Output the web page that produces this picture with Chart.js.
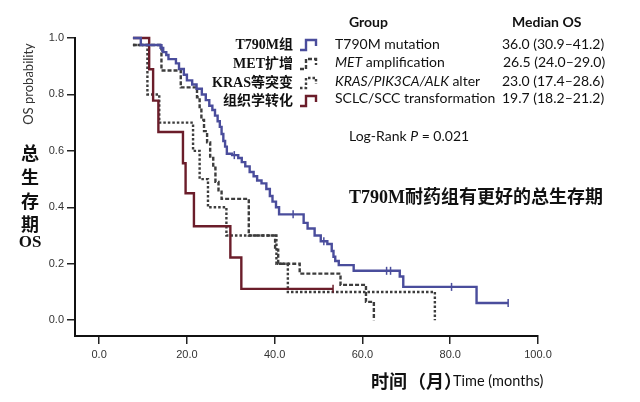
<!DOCTYPE html>
<html>
<head>
<meta charset="utf-8">
<script src="https://cdn.jsdelivr.net/npm/chart.js@4.4.1/dist/chart.umd.min.js"></script>
<style>
html,body{margin:0;padding:0;background:#fff;}
#wrap{position:relative;width:640px;height:402px;overflow:hidden;background:#fff;}
#c{position:absolute;left:0;top:0;}
.t{position:absolute;white-space:nowrap;color:#111;line-height:1;transform:translateY(-50%);}
.sans{font-family:Lato,"Open Sans",sans-serif;font-size:14px;}
.serif{font-family:"Liberation Serif","Noto Sans CJK SC",serif;font-weight:bold;}
.cjk{font-family:"Noto Sans CJK SC",sans-serif;font-weight:bold;}
i{font-style:italic;}
</style>
</head>
<body>
<div id="wrap">
  <canvas id="c" width="640" height="402"></canvas>

  <div class="t sans" style="left:28px;top:84px;font-size:13px;color:#333;transform:translate(-50%,-50%) rotate(-90deg);">OS probability</div>
  <div class="t cjk" style="left:30px;top:152px;font-size:18px;transform:translate(-50%,-50%);">总</div>
  <div class="t cjk" style="left:30px;top:176px;font-size:18px;transform:translate(-50%,-50%);">生</div>
  <div class="t cjk" style="left:30px;top:200px;font-size:18px;transform:translate(-50%,-50%);">存</div>
  <div class="t cjk" style="left:30px;top:223px;font-size:18px;transform:translate(-50%,-50%);">期</div>
  <div class="t serif" style="left:30px;top:241px;font-size:17px;transform:translate(-50%,-50%);">OS</div>

  <!-- chinese legend labels, right aligned -->
  <div class="t serif" style="right:347px;top:45px;font-size:14px;">T790M组</div>
  <div class="t serif" style="right:347px;top:64px;font-size:14px;">MET扩增</div>
  <div class="t serif" style="right:347px;top:83px;font-size:14px;">KRAS等突变</div>
  <div class="t serif" style="right:347px;top:101px;font-size:14px;">组织学转化</div>

  <!-- median OS table -->
  <div class="t sans" style="left:349px;top:22px;font-weight:bold;">Group</div>
  <div class="t sans" style="left:512px;top:22px;font-weight:bold;">Median OS</div>
  <div class="t sans" style="left:335px;top:44px;">T790M mutation</div>
  <div class="t sans" style="left:335px;top:62px;"><i>MET</i> amplification</div>
  <div class="t sans" style="left:335px;top:81px;"><i>KRAS/PIK3CA/ALK</i> alter</div>
  <div class="t sans" style="left:335px;top:98px;">SCLC/SCC transformation</div>
  <div class="t sans" style="left:502px;top:44px;">36.0 (30.9–41.2)</div>
  <div class="t sans" style="left:503px;top:62px;">26.5 (24.0–29.0)</div>
  <div class="t sans" style="left:502px;top:81px;">23.0 (17.4–28.6)</div>
  <div class="t sans" style="left:502px;top:98px;">19.7 (18.2–21.2)</div>

  <div class="t sans" style="left:349px;top:136px;">Log-Rank <i>P</i> = 0.021</div>
  <div class="t serif" style="left:349px;top:197px;font-size:18px;">T790M耐药组有更好的总生存期</div>

  <div class="t cjk" style="left:371px;top:380px;font-size:18px;">时间</div>
  <div class="t cjk" style="left:408px;top:380px;font-size:18px;">（月）</div>
  <div class="t sans" style="left:453px;top:381px;font-size:14.5px;">Time (months)</div>
</div>

<script>
// Kaplan-Meier curves (months, survival after the step)
const blueT = [7.7, 9.5, 14.0, 14.6, 15.3, 15.8, 17.5, 18.2, 19.3, 20.0, 21.2, 22.2, 23.4, 24.3, 25.1, 25.8, 26.4, 27.0, 27.5, 27.9, 28.3, 28.7, 29.1, 30.3, 31.7, 32.5, 33.3, 34.3, 35.2, 36.0, 37.0, 38.1, 38.9, 39.5, 40.3, 41.0, 46.6, 47.5, 49.1, 50.5, 52.0, 53.0, 53.4, 53.8, 54.6, 58.0, 68.5, 69.3, 86.0, 93.2];
const blueS = [1.0, 0.975, 0.965, 0.95, 0.94, 0.925, 0.91, 0.89, 0.87, 0.85, 0.835, 0.82, 0.80, 0.78, 0.76, 0.745, 0.725, 0.705, 0.685, 0.66, 0.635, 0.615, 0.59, 0.585, 0.575, 0.56, 0.545, 0.525, 0.51, 0.495, 0.485, 0.465, 0.44, 0.42, 0.40, 0.375, 0.345, 0.325, 0.30, 0.28, 0.27, 0.245, 0.225, 0.21, 0.195, 0.175, 0.155, 0.118, 0.061, 0.061];
const blueCensor = [14.3, 30.8, 44.2, 51.2, 65.5, 66.4, 80.3, 93.2];

const metT = [7.7, 14.2, 18.6, 22.3, 22.9, 23.3, 23.9, 24.6, 25.3, 26.0, 26.5, 27.2, 27.9, 34.1, 40.1, 40.8, 45.7, 55.0, 60.8, 62.6];
const metS = [0.975, 0.885, 0.825, 0.79, 0.75, 0.71, 0.67, 0.63, 0.58, 0.54, 0.49, 0.46, 0.43, 0.30, 0.25, 0.20, 0.165, 0.125, 0.065, 0.0];

const krasT = [7.7, 11.0, 13.7, 21.4, 22.9, 24.8, 29.0, 40.4, 43.0, 76.5];
const krasS = [0.975, 0.80, 0.70, 0.60, 0.50, 0.40, 0.30, 0.20, 0.10, 0.0];

const sclcT = [7.7, 11.4, 12.3, 13.5, 19.1, 19.7, 21.6, 29.9, 32.4, 53.3];
const sclcS = [1.0, 0.889, 0.778, 0.667, 0.556, 0.45, 0.333, 0.222, 0.111, 0.111];
const sclcCensor = [53.3];

const xTicks = [0, 20, 40, 60, 80, 100];
const yTicks = [0, 0.2, 0.4, 0.6, 0.8, 1.0];

const BLUE = '#4a4d9c', RED = '#6b1d2a', GREY = '#3d3d3d';

const pts = (T, S) => T.map((t, i) => ({x: t, y: S[i]}));
// survival level at time t (last step at or before t)
function levelAt(T, S, t){
  let s = S[0];
  for(let i = 0; i < T.length; i++){ if(T[i] <= t) s = S[i]; }
  return s;
}
const censorPts = (C, T, S) => C.map(t => ({x: t, y: levelAt(T, S, t)}));

// chart.js 'before' = horizontal at old level, then drop at the new point
const line = (data, color, dash, order) => ({
  data, borderColor: color, borderWidth: 2.4, borderDash: dash, stepped: 'before',
  pointRadius: 0, fill: false, clip: false, order
});
const censor = (data, color) => ({
  data, showLine: false, pointStyle: 'line', pointRotation: 90, pointRadius: 4,
  pointBorderWidth: 1.5, borderColor: color, backgroundColor: color, clip: false, order: -1
});

// small step icons next to the chinese legend
const legendIcons = {
  id: 'legendIcons',
  afterDraw(chart){
    const ctx = chart.ctx;
    const items = [[BLUE, [], 45], [GREY, [4, 2], 64], [GREY, [2.5, 2], 83], [RED, [], 101]];
    ctx.save();
    ctx.lineWidth = 2.4;
    items.forEach(([c, d, y]) => {
      ctx.strokeStyle = c;
      ctx.setLineDash(d);
      ctx.beginPath();
      ctx.moveTo(300, y + 5);
      ctx.lineTo(306, y + 5);
      ctx.lineTo(306, y - 5);
      ctx.lineTo(316, y - 5);
      ctx.lineTo(316, y + 1);
      ctx.stroke();
    });
    ctx.restore();
  }
};

const tickFont = {family: '"Liberation Sans", Arial, sans-serif', size: 11};

new Chart(document.getElementById('c'), {
  type: 'line',
  data: {
    datasets: [
      line(pts(blueT, blueS), BLUE, [], 0),
      line(pts(sclcT, sclcS), RED, [], 1),
      line(pts(metT, metS), GREY, [4, 2], 2),
      line(pts(krasT, krasS), GREY, [2.5, 2], 3),
      censor(censorPts(blueCensor, blueT, blueS), BLUE),
      censor(censorPts(sclcCensor, sclcT, sclcS), RED)
    ]
  },
  options: {
    responsive: false,
    animation: false,
    layout: {padding: {left: 0, right: 102, top: 38, bottom: 36}},
    plugins: {legend: {display: false}, tooltip: {enabled: false}},
    scales: {
      x: {
        type: 'linear', min: -5.5, max: 100,
        afterBuildTicks: s => { s.ticks = xTicks.map(v => ({value: v})); },
        afterFit: s => { s.height = 30; },
        ticks: {callback: v => v.toFixed(1), font: tickFont, color: '#333', padding: 4, maxRotation: 0},
        grid: {drawOnChartArea: false, tickLength: 8, color: '#222', lineWidth: 1.5},
        border: {color: '#111', width: 2}
      },
      y: {
        min: -0.056, max: 1.0,
        afterBuildTicks: s => { s.ticks = yTicks.map(v => ({value: v})); },
        afterFit: s => { s.width = 75; },
        ticks: {callback: v => v.toFixed(1), font: tickFont, color: '#333', padding: 3},
        grid: {drawOnChartArea: false, tickLength: 8, color: '#222', lineWidth: 1.5},
        border: {color: '#111', width: 2}
      }
    }
  },
  plugins: [legendIcons]
});
</script>
</body>
</html>
